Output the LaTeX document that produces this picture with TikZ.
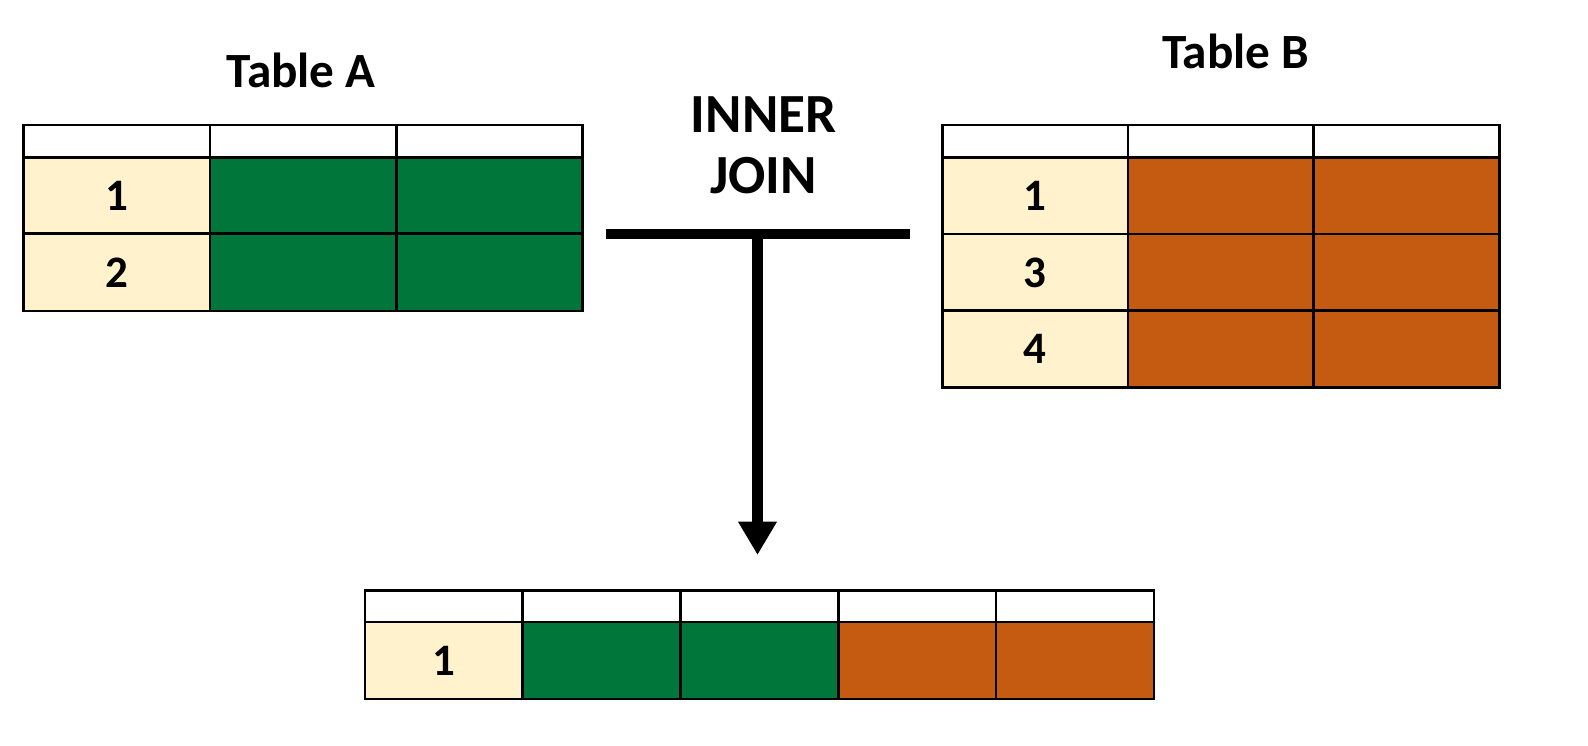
\documentclass[tikz,border=0pt]{standalone}
\usepackage{fontspec}
\setmainfont{Carlito}
\usetikzlibrary{arrows.meta}
\definecolor{keycream}{HTML}{FFF2CC}
\definecolor{agreen}{HTML}{00763A}
\definecolor{borange}{HTML}{C55A11}

\begin{document}
\begin{tikzpicture} [x=0.01cm, y=-0.01cm,
  cell/.style={draw=black, line width=0.75pt, inner sep=0pt, anchor=north west,
    font=\bfseries\fontsize{12.8}{14}\selectfont},
  headcell/.style={cell, fill=white, minimum height=0.324cm},
  rowcell/.style={cell, minimum height=0.77cm},
  tabtitle/.style={font=\bfseries\fontsize{14}{16}\selectfont},
  joinlabel/.style={font=\bfseries\fontsize{15.7}{17.3}\selectfont, align=center}]
\useasboundingbox (0,0) rectangle (1588,746);

% Table A
\node[tabtitle] (titleA) at (301,70) {Table A};
\foreach \c in {0,1,2}
 \node[headcell, minimum width=1.863cm] (a-h\c) at (22.3+186.3*\c,123.6) {};
\foreach \k [count=\r from 0] in {1,2}
 \foreach \c/\f in {0/keycream,1/agreen,2/agreen}
  \node[rowcell, minimum width=1.863cm, fill=\f] (a-\k-\c) at (22.3+186.3*\c,156+76.5*\r) {\ifnum\c=0 \k\fi};

% Table B
\node[tabtitle] (titleB) at (1235.6,51) {Table B};
\foreach \c in {0,1,2}
 \node[headcell, minimum width=1.857cm] (b-h\c) at (941+185.7*\c,123.6) {};
\foreach \k [count=\r from 0] in {1,3,4}
 \foreach \c/\f in {0/keycream,1/borange,2/borange}
  \node[rowcell, minimum width=1.857cm, fill=\f] (b-\k-\c) at (941+185.7*\c,156+76.7*\r) {\ifnum\c=0 \k\fi};

% join
\node[joinlabel] (join) at (763.6,145) {INNER\\JOIN};
\coordinate (barL) at (605.6,234);
\coordinate (barR) at (909.5,234);
\coordinate (barM) at (757.5,234);
\coordinate (tip) at (757.5,555);
\draw[black, line width=3.1pt] (barL) -- (barR);
\draw[black, line width=2.9pt, -{Triangle[width=10.4pt, length=9.5pt]}] (barM) -- (tip);

% result
\foreach \c in {0,...,4}
 \node[headcell, minimum width=1.578cm, minimum height=0.314cm] (r-h\c) at (363.6+157.8*\c,589.4) {};
\foreach \c/\f in {0/keycream,1/agreen,2/agreen,3/borange,4/borange}
 \node[rowcell, minimum width=1.578cm, fill=\f] (r-1-\c) at (363.6+157.8*\c,620.8) {\ifnum\c=0 1\fi};

\end{tikzpicture}
\end{document}
